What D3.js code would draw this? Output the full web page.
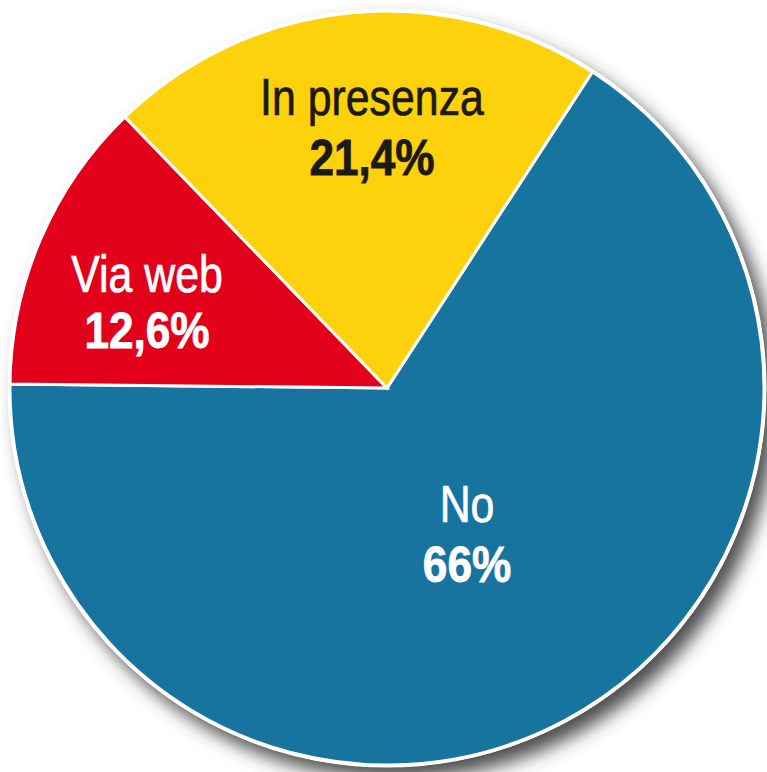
<!DOCTYPE html>
<html>
<head>
<meta charset="utf-8">
<script src="https://cdn.jsdelivr.net/npm/d3@7"></script>
<style>
html,body{margin:0;padding:0;background:#fff;}
svg{display:block;}
</style>
</head>
<body>
<svg id="chart" width="767" height="772"></svg>
<script>
const categories = ["No", "Via web", "In presenza"];
const values = [66, 12.6, 21.4];
const valueLabels = ["66%", "12,6%", "21,4%"];
const colors = ["#17749f", "#e2001a", "#fdd20c"];
const textColors = ["#ffffff", "#ffffff", "#1b1a17"];

const W = 767, H = 772;
const cx = 387, cy = 388, R = 377;
const startDeg = 33;

const svg = d3.select("#chart");
const defs = svg.append("defs");
const f = defs.append("filter").attr("id", "shadow")
  .attr("x", "-10%").attr("y", "-10%").attr("width", "130%").attr("height", "130%");
f.append("feDropShadow").attr("dx", 10).attr("dy", 12).attr("stdDeviation", 9)
  .attr("flood-color", "#3a3a3a").attr("flood-opacity", 0.9);

const data = categories.map((c, i) => ({ cat: c, value: values[i], label: valueLabels[i], color: colors[i], text: textColors[i] }));

const pie = d3.pie().sort(null).value(d => d.value)
  .startAngle(startDeg * Math.PI / 180)
  .endAngle(startDeg * Math.PI / 180 + 2 * Math.PI);
const arcs = pie(data);
const arc = d3.arc().innerRadius(0).outerRadius(R);

const g = svg.append("g").attr("transform", `translate(${cx},${cy})`);

// shadow disk
g.append("circle").attr("r", R + 2).attr("fill", "#fff").attr("filter", "url(#shadow)");

g.selectAll("path.slice").data(arcs).enter().append("path")
  .attr("class", "slice")
  .attr("d", arc)
  .attr("fill", d => d.data.color)
  .attr("stroke", "#fff")
  .attr("stroke-width", 3)
  .attr("stroke-linejoin", "miter");

g.append("circle").attr("r", R + 1).attr("fill", "none").attr("stroke", "#fff").attr("stroke-width", 3);

// label layout (offsets from the pie centre: name baseline, value baseline)
const labelPos = {
  "No": { x: 80, y1: 134, y2: 194 },
  "Via web": { x: -240, y1: -96, y2: -40 },
  "In presenza": { x: -15, y1: -273, y2: -213 }
};

const font = "'Liberation Sans', Arial, Helvetica, sans-serif";
const lg = g.selectAll("g.lbl").data(arcs).enter().append("g")
  .attr("class", "lbl");

lg.append("text")
  .attr("text-anchor", "middle")
  .attr("transform", d => `translate(${labelPos[d.data.cat].x},${labelPos[d.data.cat].y1}) scale(0.84,1)`)
  .attr("font-family", font)
  .attr("font-size", 51)
  .attr("fill", d => d.data.text)
  .attr("stroke", d => d.data.text)
  .attr("stroke-width", 0.7)
  .text(d => d.data.cat);

lg.append("text")
  .attr("text-anchor", "middle")
  .attr("transform", d => `translate(${labelPos[d.data.cat].x},${labelPos[d.data.cat].y2}) scale(0.92,1.04)`)
  .attr("font-family", font)
  .attr("font-weight", "bold")
  .attr("font-size", 48)
  .attr("fill", d => d.data.text)
  .attr("stroke", d => d.data.text)
  .attr("stroke-width", 0.8)
  .text(d => d.data.label);
</script>
</body>
</html>
